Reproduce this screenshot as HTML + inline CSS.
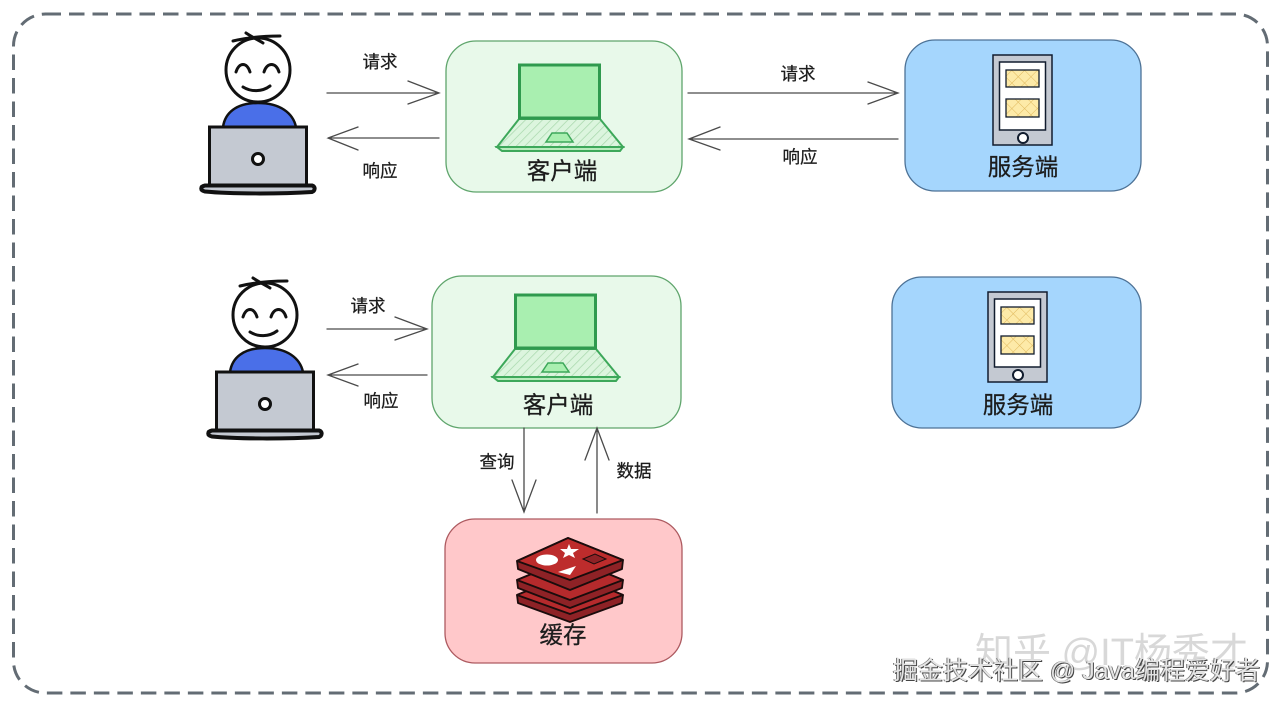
<!DOCTYPE html>
<html lang="zh"><head><meta charset="utf-8"><style>
html,body{margin:0;padding:0;background:#fff}
#s{position:relative;width:1280px;height:706px;overflow:hidden;background:#fff;font-family:"Liberation Sans","Noto Sans CJK SC",sans-serif}
svg{position:absolute;left:0;top:0;filter:blur(0.35px)}
svg text{font-family:"Liberation Sans","Noto Sans CJK SC",sans-serif;text-anchor:middle;dominant-baseline:central;fill:#1c1c1c;stroke:#1c1c1c;stroke-width:.25}
.w{position:absolute;white-space:nowrap}
</style></head><body><div id="s">
<svg width="1280" height="706" viewBox="0 0 1280 706" fill="none">
<defs>
<pattern id="h" width="6" height="6" patternUnits="userSpaceOnUse" patternTransform="rotate(45)"><rect width="6" height="6" fill="#dcf5de"/><line x1="0" y1="0" x2="0" y2="6" stroke="#a5d6a9" stroke-width="1.4"/></pattern>
<pattern id="y" width="9" height="9" patternUnits="userSpaceOnUse" patternTransform="rotate(45)"><rect width="9" height="9" fill="#fdeaa8"/><path d="M0 0V9M0 0H9" stroke="#e0b95e" stroke-width="1"/></pattern>
<g id="person">
<path d="M223 127C225 113 236 103 258 103C280 103 293 113 296 127Z" fill="#4a6fe8" stroke="#111" stroke-width="2.5"/>
<circle cx="258" cy="70" r="32" fill="#fff" stroke="#111" stroke-width="3"/>
<path d="M233 41C245 38 262 36 280 36M246 33C252 37 258 40 263 43" stroke="#111" stroke-width="3" stroke-linecap="round"/>
<path d="M236 72C239 62 247 62 250 72M264 72C267 62 276 62 279 72M243 87C251 92 262 92 270 86" stroke="#111" stroke-width="3" stroke-linecap="round"/>
<rect x="209.500" y="127" width="97" height="58" fill="#c4c9d2" stroke="#111" stroke-width="3"/>
<circle cx="258" cy="159" r="5.500" fill="#fff" stroke="#111" stroke-width="3"/>
<path d="M205 185.500H312C316 186.500 315 191 312 192C280 194 230 194 205 191.500C200 190.500 200 186.500 205 185.500Z" fill="#c4c9d2" stroke="#111" stroke-width="4"/>
</g>
<g id="lap">
<path d="M519 119L600 119L623 147L497 147Z" fill="url(#h)" stroke="#3da85a" stroke-width="2"/>
<path d="M497 147L623 147L620 151L502 151Z" fill="#b8ecbc" stroke="#3da85a" stroke-width="2"/>
<rect x="519.500" y="65" width="80" height="53" fill="#a9efb0" stroke="#2f9a4e" stroke-width="3"/>
<path d="M552 133H567L573 142H546Z" fill="#a9efb0" stroke="#3da85a" stroke-width="1.500"/>
</g>
<g id="tab">
<rect x="993" y="55" width="59" height="90" fill="#c4c9d2" stroke="#111c2e" stroke-width="1.500"/>
<rect x="999.500" y="62" width="46" height="68" fill="#fff" stroke="#111c2e" stroke-width="1.500"/>
<rect x="1006" y="70" width="33" height="17" fill="url(#y)" stroke="#111c2e" stroke-width="1.300"/>
<rect x="1006" y="99" width="33" height="18" fill="url(#y)" stroke="#111c2e" stroke-width="1.300"/>
<circle cx="1023" cy="138" r="5" fill="#fff" stroke="#111c2e" stroke-width="2"/>
</g>
</defs>
<rect x="13.500" y="14" width="1254" height="679" rx="32" stroke="#636c74" stroke-width="3" stroke-dasharray="15.500 8"/>

<rect x="446" y="41" width="236" height="151" rx="30" fill="#e8f9ea" stroke="#5fa56c" stroke-width="1.300"/>
<rect x="905" y="40" width="236" height="151" rx="30" fill="#a5d6fd" stroke="#4d7296" stroke-width="1.300"/>
<rect x="432" y="276" width="249" height="152" rx="30" fill="#e8f9ea" stroke="#5fa56c" stroke-width="1.300"/>
<rect x="892" y="277" width="249" height="151" rx="30" fill="#a5d6fd" stroke="#4d7296" stroke-width="1.300"/>
<rect x="445" y="519" width="237" height="144" rx="30" fill="#ffc8ca" stroke="#ad5a60" stroke-width="1.300"/>

<use href="#person"/>
<use href="#person" transform="translate(7 245)"/>
<use href="#lap"/>
<use href="#lap" transform="translate(-4 230)"/>
<use href="#tab"/>
<use href="#tab" transform="translate(-5 237)"/>

<g stroke="#4a4a4a" stroke-width="1.300" stroke-linecap="round">
<path d="M327 93H439M408 81L439 93L408 104"/>
<path d="M439 138H328M358 127L328 138L358 150"/>
<path d="M688 93H898M868 82L898 93L868 104"/>
<path d="M898 139H689M720 127L689 139L720 150"/>
<path d="M327 329H427M395 317L427 329L395 340"/>
<path d="M427 375H328M358 364L328 375L358 386"/>
<path d="M524 428V512M512 480L524 512L536 480"/>
<path d="M597 513V428M585 460L597 428L609 460"/>
</g>

<g stroke="#1a0c0c" stroke-width="1.800" stroke-linejoin="round">
<path d="M517 595L570 573L623 595L622 603L570 622L518 603Z" fill="#8e2226"/>
<path d="M517 595L570 614L623 595L570 573Z" fill="#b52a2c"/>
<path d="M517 580L570 558L623 580L622 588L570 608L518 588Z" fill="#8e2226"/>
<path d="M517 580L570 600L623 580L570 558Z" fill="#b52a2c"/>
<path d="M517 561L568 538L623 560L622 569L570 590L518 569Z" fill="#8e2226"/>
<path d="M517 561L570 580L623 560L568 538Z" fill="#bd2c2c"/>
</g>
<ellipse cx="547" cy="560" rx="11" ry="5.500" fill="#fff"/>
<path d="M569 544L571 549L579 549L573 553L575 558L569 555L563 558L565 553L560 549L567 549Z" fill="#fff"/>
<path d="M558 572L576 566L570 575Z" fill="#fff"/>
<path d="M583 559L595 554L606 559L594 564Z" fill="#8e2226" stroke="#1a0c0c"/>

<g font-size="17.500">
<text x="380" y="62">请求</text><text x="380" y="171">响应</text>
<text x="798" y="74">请求</text><text x="800" y="157">响应</text>
<text x="368" y="306">请求</text><text x="381" y="401">响应</text>
<text x="497" y="462">查询</text><text x="634" y="471">数据</text>
</g>
<g font-size="23.500">
<text x="562" y="171">客户端</text><text x="1023" y="167">服务端</text>
<text x="558" y="405">客户端</text><text x="1018" y="405">服务端</text>
<text x="563" y="635">缓存</text>
</g>
</svg>
<div class="w" style="left:975px;top:631px;font-size:38px;line-height:44px;color:#d8d8d8">知乎 @IT杨秀才</div>
<div class="w" style="left:893px;top:656px;font-size:25px;line-height:30px;color:#e4e4e4;text-shadow:1px 1px 0 #444,-1px 0 0 #777">掘金技术社区 @ Java编程爱好者</div>
</div></body></html>
